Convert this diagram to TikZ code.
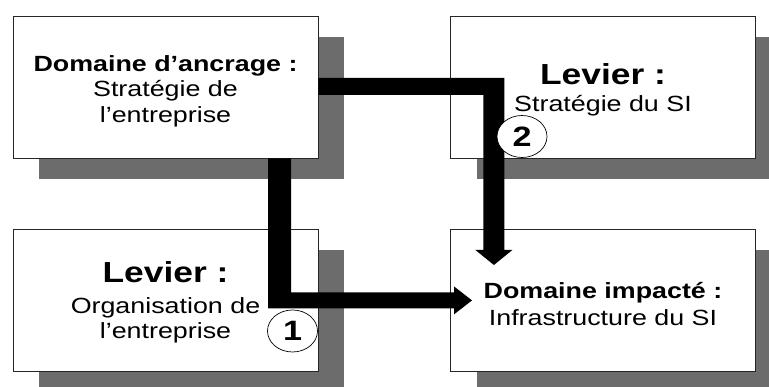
\documentclass[tikz,border=0pt]{standalone}
\usepackage{fontspec}
\setmainfont{Liberation Sans}[FakeStretch=1.22]
\usetikzlibrary{shapes.geometric,shadows}
\definecolor{shadowgray}{RGB}{108,108,108}
\newcommand{\lift}[1]{\rule{0pt}{#1}}
\begin{document}
\begin{tikzpicture}[x=1pt,y=-1pt,
  box/.style={draw=black!85, line width=0.8pt, fill=white,
    minimum width=305pt, minimum height=142pt, inner sep=0pt,
    align=center, font=\fontsize{22}{25.5}\selectfont,
    copy shadow={shadow xshift=26pt, shadow yshift=-21pt, fill=shadowgray, draw=none}},
  num/.style={ellipse, draw=black, line width=0.7pt, fill=white,
    minimum width=50pt, minimum height=42pt, inner sep=0pt,
    font=\fontsize{28}{28}\selectfont\bfseries},
  conn/.style={fill=black, draw=none}]
\useasboundingbox (0,0) rectangle (769,387);
\clip (0,0) rectangle (769,387);
\node[box] (A) at (165.5,87) {\lift{24pt}\textbf{Domaine d’ancrage :}\\Stratégie de\\l’entreprise};
\node[box] (B) at (603,87) {\lift{27pt}{\fontsize{29}{29}\selectfont\bfseries Levier :}\\[1.5pt]Stratégie du SI};
\node[box] (C) at (165.5,300.5) {\lift{25pt}{\fontsize{29}{29}\selectfont\bfseries Levier :}\\[5.5pt]Organisation de\\l’entreprise};
\node[box] (D) at (603,300.5) {\lift{22.5pt}\textbf{Domaine impacté :}\\[1.5pt]Infrastructure du SI};
% connector 1: A -> D (down then right)
\fill[conn] ([xshift=102.5pt]A.south) -- ++(23,0) -- ++(0,134) -- ++(163,0)
  -- ++(0,-6) -- ++(18,14) -- ++(-18,14) -- ++(0,-6) -- ++(-186,0) -- cycle;
% connector 2: A -> D (right then down)
\fill[conn] ([yshift=9pt]A.east) -- ++(186,0) -- ++(0,172) -- ++(8,0)
  -- ++(-18.5,15) -- ++(-18.5,-15) -- ++(8,0) -- ++(0,-155) -- ++(-165,0) -- cycle;
\node[num] (n1) at (292.5,331) {1};
\node[num] (n2) at (522,136.5) {2};
\end{tikzpicture}
\end{document}
